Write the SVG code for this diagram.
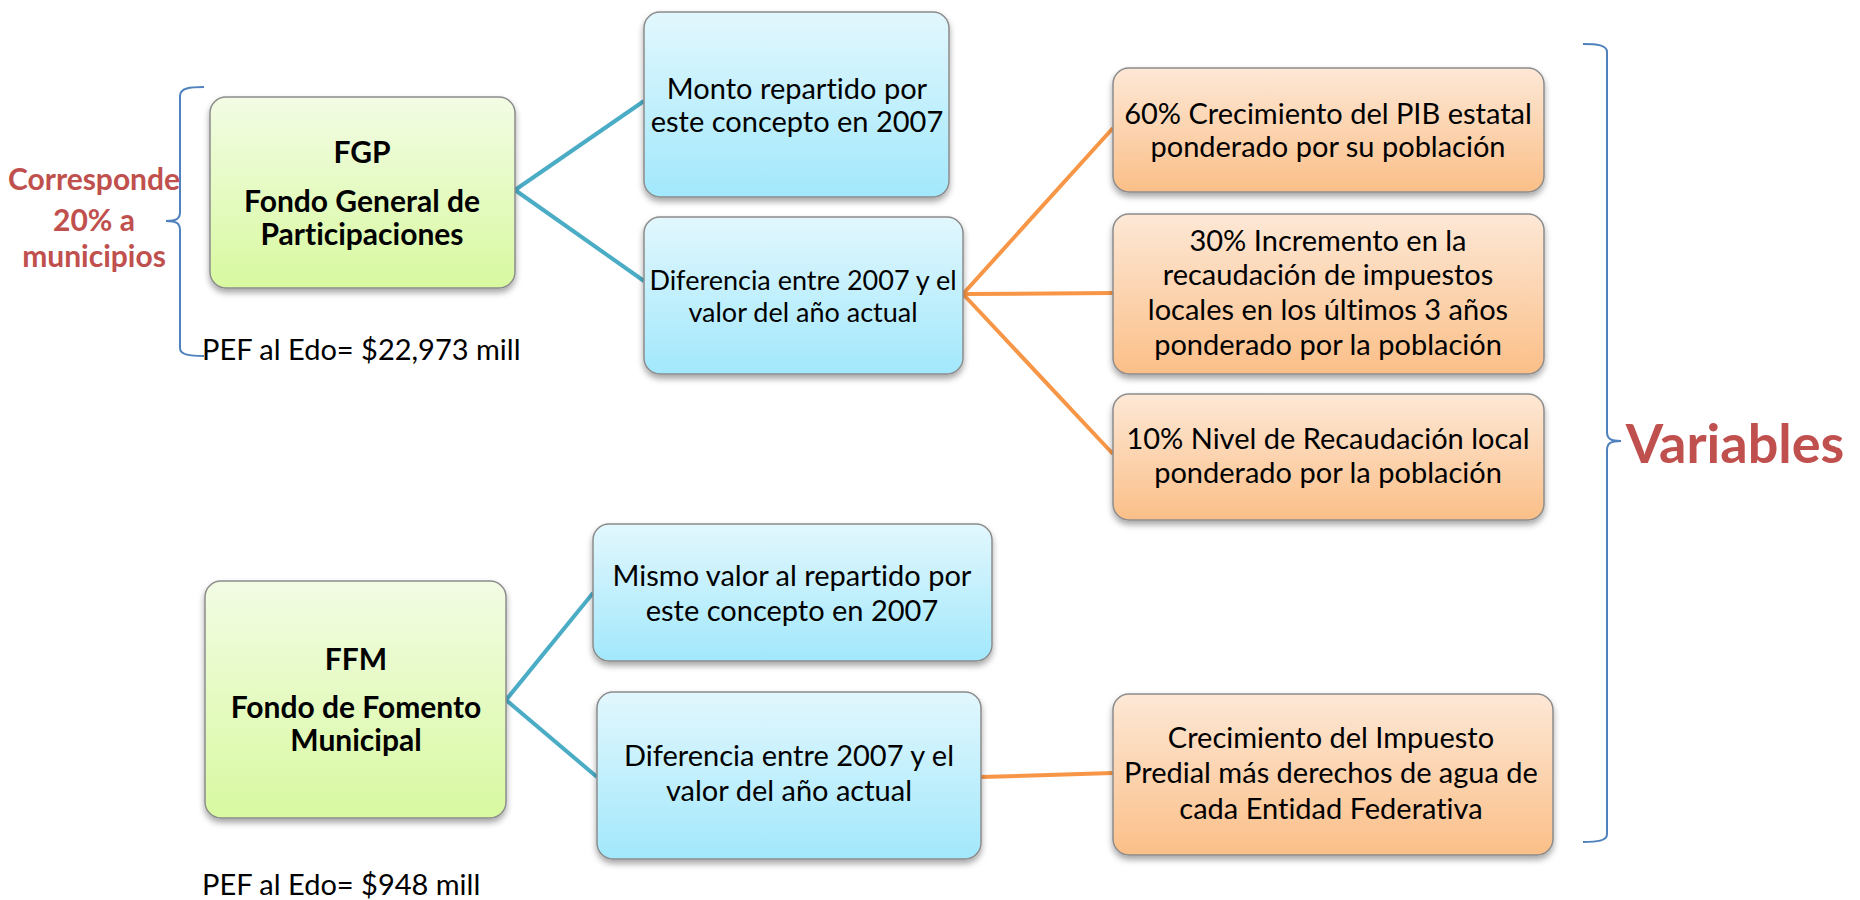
<svg xmlns="http://www.w3.org/2000/svg" width="1860" height="900" viewBox="0 0 1860 900">
<defs>
<linearGradient id="gGreen" x1="0" y1="0" x2="0" y2="1"><stop offset="0" stop-color="#f2fce4"/><stop offset="1" stop-color="#d8f9a0"/></linearGradient>
<linearGradient id="gBlue" x1="0" y1="0" x2="0" y2="1"><stop offset="0" stop-color="#e2f7fd"/><stop offset="1" stop-color="#a2e8fc"/></linearGradient>
<linearGradient id="gOrange" x1="0" y1="0" x2="0" y2="1"><stop offset="0" stop-color="#fde8d6"/><stop offset="1" stop-color="#fbbf88"/></linearGradient>
<filter id="sh" x="-10%" y="-10%" width="120%" height="130%"><feDropShadow dx="0" dy="4" stdDeviation="3" flood-color="#000" flood-opacity="0.35"/></filter>
</defs>
<style>
text{font-variant-ligatures:none}
.box{stroke:#8c8c8c;stroke-width:1.5;filter:url(#sh)}
.g{fill:url(#gGreen)}
.b{fill:url(#gBlue)}
.o{fill:url(#gOrange)}
.t{font-family:Lato,"Liberation Sans",sans-serif;font-size:29px;fill:#000;text-anchor:middle}
.ts{font-size:27px}
.tb{font-family:Lato,"Liberation Sans",sans-serif;font-size:30px;font-weight:bold;fill:#000;text-anchor:middle}
.red{font-family:Lato,"Liberation Sans",sans-serif;font-weight:bold;fill:#c0504d;text-anchor:middle}
.pef{font-family:Lato,"Liberation Sans",sans-serif;font-size:29px;fill:#000}
.cb{stroke:#4bacc6;stroke-width:4;fill:none}
.co{stroke:#f79646;stroke-width:4;fill:none}
.br{stroke:#4f81bd;stroke-width:2;fill:none}
</style>
<rect width="1860" height="900" fill="#fff"/>
<g id="connectors">
<line class="cb" x1="515" y1="190" x2="644" y2="101"/>
<line class="cb" x1="515" y1="190" x2="644" y2="281"/>
<line class="co" x1="963" y1="294" x2="1113" y2="128"/>
<line class="co" x1="963" y1="294" x2="1113" y2="293"/>
<line class="co" x1="963" y1="294" x2="1113" y2="454"/>
<line class="cb" x1="506" y1="700" x2="593" y2="593"/>
<line class="cb" x1="506" y1="700" x2="597" y2="777"/>
<line class="co" x1="981" y1="777" x2="1113" y2="773"/>
</g>
<g id="brace-left"><path class="br" d="M204,87 C190,87 180,88 180,96 L180,212 C180,219 176,221 166,221 C176,221 180,223 180,230 L180,348 C180,355 190,356 204,356"/></g>
<g id="brace-right"><path class="br" d="M1583,44 C1597,44 1607,45 1607,52 L1607,432 C1607,439 1611,441 1621,441 C1611,441 1607,443 1607,450 L1607,834 C1607,841 1597,842 1583,842"/></g>
<g id="corresponde"><text class="red" font-size="30" x="94" y="190">Corresponde</text><text class="red" font-size="30" x="94" y="231">20% a</text><text class="red" font-size="30" x="94" y="267">municipios</text></g>
<g id="variables"><text class="red" font-size="54" x="1735" y="463">Variables</text></g>
<g id="fgp"><rect class="box g" x="210" y="97" width="305" height="191" rx="16"/>
<text class="tb" x="362" y="163">FGP</text><text class="tb" x="362" y="212">Fondo General de</text><text class="tb" x="362" y="245">Participaciones</text></g>
<g id="pef1"><text class="pef" x="202" y="360">PEF al Edo= $22,973 mill</text></g>
<g id="monto"><rect class="box b" x="644" y="12" width="305" height="185" rx="16"/>
<text class="t" x="797" y="99">Monto repartido por</text><text class="t" x="797" y="132">este concepto en 2007</text></g>
<g id="dif1"><rect class="box b" x="644" y="217" width="319" height="157" rx="16"/>
<text class="t ts" x="803" y="290">Diferencia entre 2007 y el</text><text class="t ts" x="803" y="322">valor del año actual</text></g>
<g id="var1"><rect class="box o" x="1113" y="68" width="431" height="124" rx="16"/>
<text class="t" x="1328" y="124">60% Crecimiento del PIB estatal</text><text class="t" x="1328" y="157">ponderado por su población</text></g>
<g id="var2"><rect class="box o" x="1113" y="214" width="431" height="160" rx="16"/>
<text class="t" x="1328" y="251">30% Incremento en la</text><text class="t" x="1328" y="285">recaudación de impuestos</text><text class="t" x="1328" y="320">locales en los últimos 3 años</text><text class="t" x="1328" y="355">ponderado por la población</text></g>
<g id="var3"><rect class="box o" x="1113" y="394" width="431" height="126" rx="16"/>
<text class="t" x="1328" y="449">10% Nivel de Recaudación local</text><text class="t" x="1328" y="483">ponderado por la población</text></g>
<g id="ffm"><rect class="box g" x="205" y="581" width="301" height="237" rx="16"/>
<text class="tb" x="356" y="670">FFM</text><text class="tb" x="356" y="718">Fondo de Fomento</text><text class="tb" x="356" y="751">Municipal</text></g>
<g id="pef2"><text class="pef" x="202" y="895">PEF al Edo= $948 mill</text></g>
<g id="mismo"><rect class="box b" x="593" y="524" width="399" height="137" rx="16"/>
<text class="t" x="792" y="586">Mismo valor al repartido por</text><text class="t" x="792" y="621">este concepto en 2007</text></g>
<g id="dif2"><rect class="box b" x="597" y="692" width="384" height="167" rx="16"/>
<text class="t" x="789" y="766">Diferencia entre 2007 y el</text><text class="t" x="789" y="801">valor del año actual</text></g>
<g id="var4"><rect class="box o" x="1113" y="694" width="440" height="161" rx="16"/>
<text class="t" x="1331" y="748">Crecimiento del Impuesto</text><text class="t" x="1331" y="783">Predial más derechos de agua de</text><text class="t" x="1331" y="819">cada Entidad Federativa</text></g>
</svg>
